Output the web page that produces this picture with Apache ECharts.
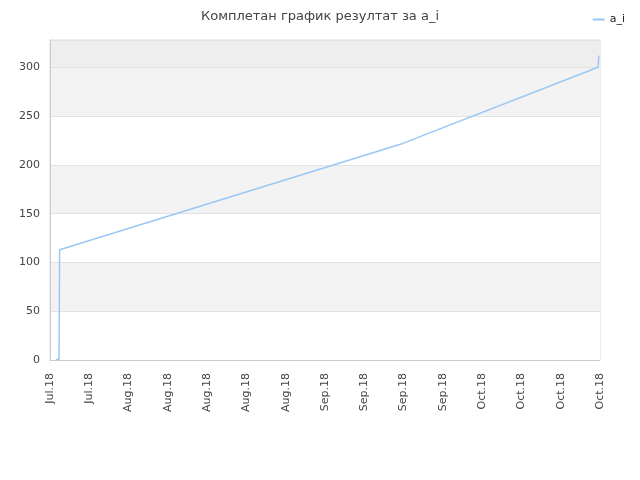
<!DOCTYPE html>
<html><head><meta charset="utf-8">
<script src="https://cdn.jsdelivr.net/npm/echarts@6/dist/echarts.min.js"></script>
<style>html,body{margin:0;padding:0;background:#fff}#c{width:640px;height:480px}</style>
</head><body><div id="c"></div>
<script>
const xLabels = ['Jul.18','Jul.18','Aug.18','Aug.18','Aug.18','Aug.18','Aug.18','Sep.18','Sep.18','Sep.18','Sep.18','Oct.18','Oct.18','Oct.18','Oct.18'];
const xPos = [0.15, 0.23, 0.24, 0.245, 8.98, 13.95, 13.97];
const values = [0, 1, 2, 113, 222, 300, 312];
const seriesName = 'a_i';
const titleText = 'Комплетан график резултат за a_i';

const chart = echarts.init(document.getElementById('c'), null, {renderer:'canvas'});
chart.setOption({
  animation:false,
  title:{text:titleText,left:'center',top:5,textStyle:{fontFamily:'DejaVu Sans',fontSize:13,fontWeight:'normal',color:'#444'}},
  legend:{right:10,top:9,itemWidth:12,itemHeight:2,icon:'rect',textStyle:{fontFamily:'DejaVu Sans',fontSize:11,color:'#222'},data:[seriesName]},
  grid:{left:50,right:40,top:40,bottom:120,show:true,borderColor:'#ddd',borderWidth:1},
  xAxis:{type:'value',min:0,max:14,interval:1,
    axisLine:{show:true,lineStyle:{color:'#ccc'}},axisTick:{show:false},splitLine:{show:false},
    axisLabel:{rotate:90,fontFamily:'DejaVu Sans',fontSize:11,color:'#444',margin:13,formatter:v=>xLabels[Math.round(v)]||''}},
  yAxis:{type:'value',min:0,max:328,interval:50,
    axisLine:{show:true,lineStyle:{color:'#ccc'}},axisTick:{show:false},
    axisLabel:{fontFamily:'DejaVu Sans',fontSize:11,color:'#444',showMaxLabel:false,margin:10},
    splitLine:{lineStyle:{color:'#e2e2e2'}},
    splitArea:{show:true,areaStyle:{color:['#ffffff','#f3f3f3','#ffffff','#f3f3f3','#ffffff','#f3f3f3','#eeeeee']}}},
  series:[{name:seriesName,type:'line',showSymbol:false,symbol:'none',
    lineStyle:{width:1.5,color:'#99c8f5'},itemStyle:{color:'#99c8f5'},
    data:xPos.map((x,i)=>[x,values[i]])}]
});
</script></body></html>
